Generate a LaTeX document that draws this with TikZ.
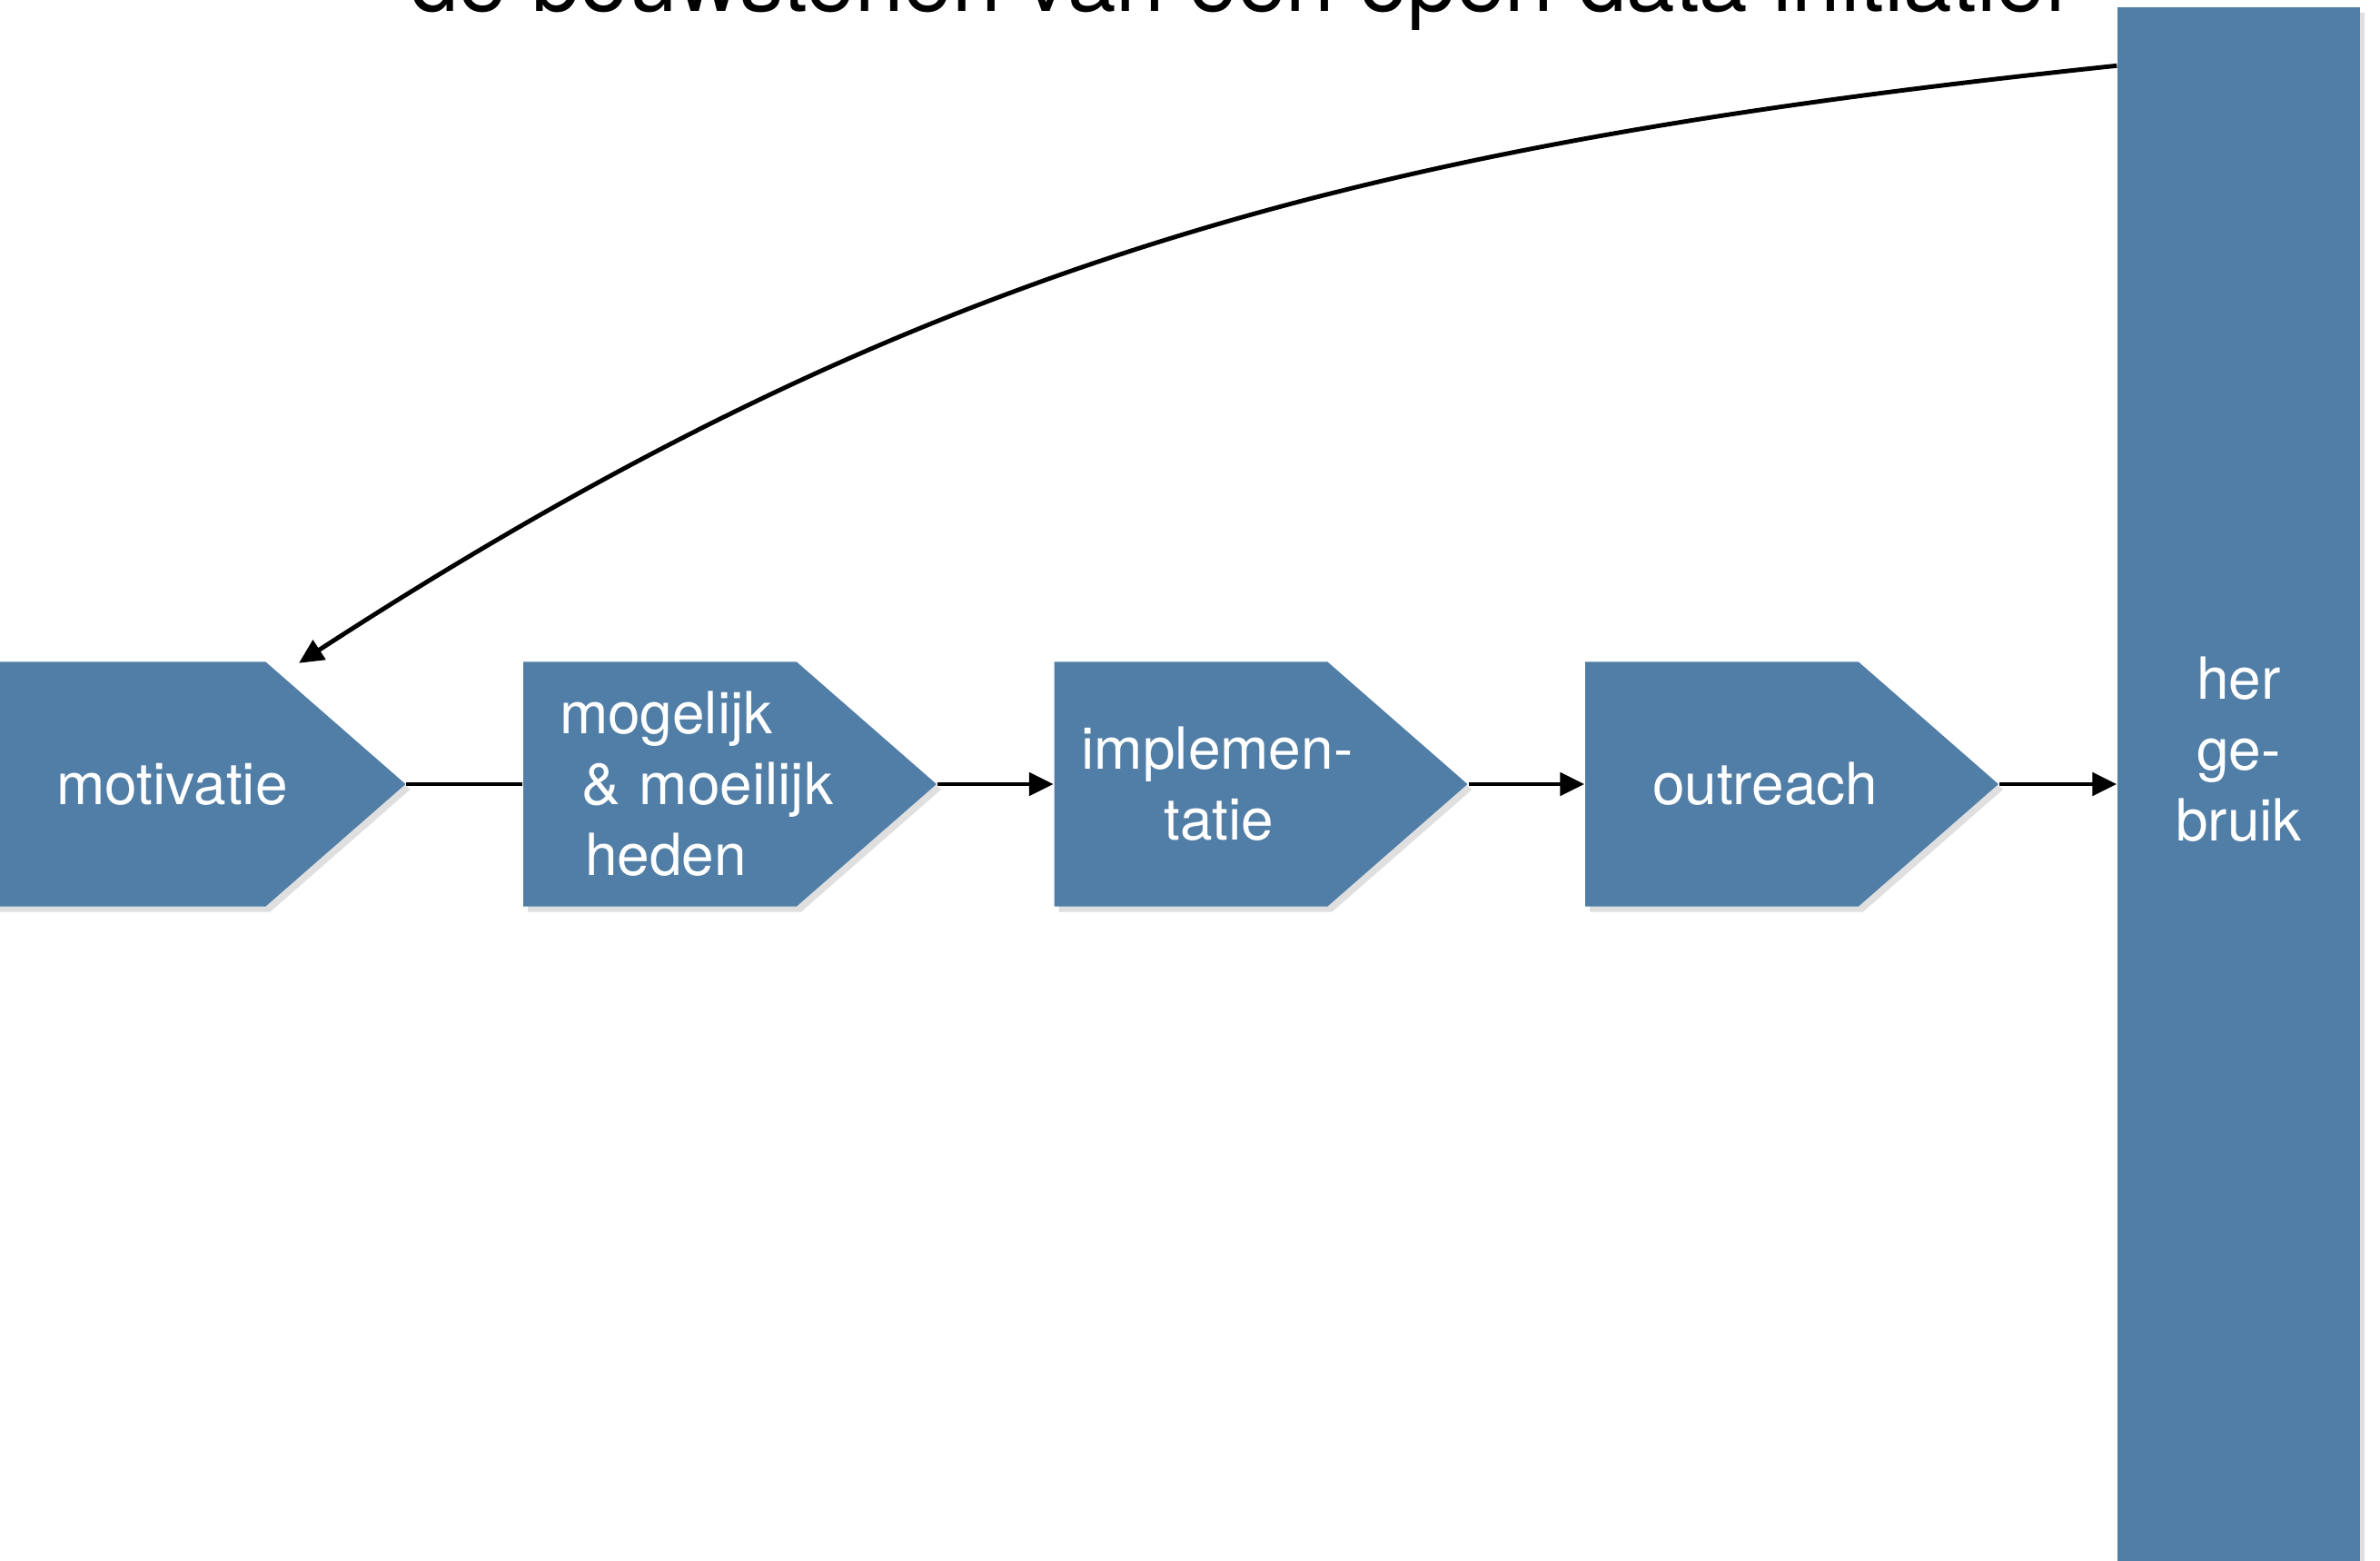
\documentclass[tikz,border=0pt]{standalone}
\usepackage{fontspec}
\setmainfont{TeX Gyre Heros}
\usetikzlibrary{arrows.meta, positioning, shapes.symbols, shadows}
\definecolor{blockblue}{RGB}{81,126,166}

\begin{document}
\begin{tikzpicture}[
        node distance=5.845cm, on grid, >={Triangle[length=0.27cm,width=0.25cm]},
        every node/.style={font=\fontsize{18.2}{22.2}\selectfont},
        block/.style={signal, signal to=east, signal pointer angle=82.3,
          fill=blockblue, text=white, text width=3.01cm, align=left, minimum height=2.69cm,
          inner sep=0pt, drop shadow={opacity=0.25, shadow xshift=0.05cm, shadow yshift=-0.06cm}},
        link/.style={line width=1.4pt},
        ]
        \useasboundingbox (0,0) rectangle (26.2,-17.18);
        \node[anchor=base, font=\fontsize{27.4}{30}\selectfont] (title) at (13.645,-0.13)
          {de bouwstenen van een open data initiatief};
        \node[block] (motivatie) at (1.42,-8.63) {\mbox{\hspace{0.71cm}motivatie}};
        \node[block] (mogelijk) [right=of motivatie]
          {\mbox{\hspace{0.4cm}mogelijk}\\\mbox{\hspace{0.64cm}\& moeilijk}\\\mbox{\hspace{0.68cm}heden}};
        \node[block] (implementatie) [right=of mogelijk]
          {\mbox{\hspace{0.3cm}implemen-}\\\mbox{\hspace{1.21cm}tatie}};
        \node[block] (outreach) [right=of implementatie] {\mbox{\hspace{0.74cm}outreach}};
        \node[fill=blockblue, text=white, minimum width=2.67cm, minimum height=17.1cm,
          align=center, drop shadow={opacity=0.25, shadow xshift=0.05cm, shadow yshift=-0.06cm}]
          (hergebruik) at (24.645,-8.63) {her\\ge-\\bruik\\\mbox{}};

        \draw[link] (motivatie.east) -- (mogelijk.west);
        \draw[link,->] (mogelijk.east) -- (implementatie.west);
        \draw[link,->] (implementatie.east) -- (outreach.west);
        \draw[link,->] (outreach.east) -- (outreach.east -| hergebruik.west);
        % terugkoppeling naar het begin
        \draw[link,->] ([yshift=-0.65cm]hergebruik.north west)
          to[out=186, in=33] ([xshift=1.87cm,yshift=-0.02cm]motivatie.north);
      \end{tikzpicture}
\end{document}
